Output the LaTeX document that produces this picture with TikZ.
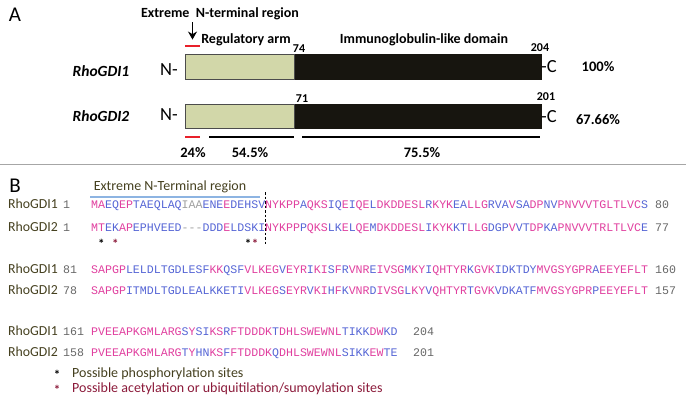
\documentclass[tikz,border=0pt]{standalone}
\usepackage{fontspec}
\setmainfont{Carlito}
\setsansfont{Carlito}
\setmonofont{Liberation Mono}
\usepackage{xcolor}
\usepackage{tikz}
\usetikzlibrary{arrows.meta,positioning}
\definecolor{armfill}{HTML}{D2D7A9}
\definecolor{domfill}{HTML}{17150F}
\definecolor{seqpink}{HTML}{E0409F}
\definecolor{seqblue}{HTML}{5565D5}
\definecolor{seqgray}{HTML}{A0A0A0}
\definecolor{numgray}{HTML}{666666}
\definecolor{gdiname}{HTML}{45401F}
\definecolor{sitered}{HTML}{8B1A3A}
\definecolor{regblue}{HTML}{8DB4E2}
\definecolor{markred}{HTML}{E8202A}
\newcommand{\sqM}[1]{\textcolor{seqpink}{#1}}
\newcommand{\sqB}[1]{\textcolor{seqblue}{#1}}
\newcommand{\sqG}[1]{\textcolor{seqgray}{#1}}

\begin{document}
\begin{tikzpicture}[x=1pt, y=-1pt,
    panel/.style={font=\sffamily\fontsize{21}{23}\selectfont, inner sep=0pt},
    hd/.style={font=\sffamily\bfseries\fontsize{14}{16}\selectfont, inner sep=0pt},
    num/.style={font=\sffamily\bfseries\fontsize{12}{14}\selectfont, inner sep=0pt},
    pct/.style={font=\sffamily\bfseries\fontsize{14.5}{16}\selectfont, inner sep=0pt},
    term/.style={font=\sffamily\fontsize{18.5}{20}\selectfont, inner sep=0pt},
    gname/.style={font=\sffamily\bfseries\itshape\fontsize{15.5}{17}\selectfont, inner sep=0pt},
    armbox/.style={draw=black!70, fill=armfill, line width=0.6pt, minimum width=109pt, minimum height=25pt, inner sep=0pt, anchor=north west},
    dombox/.style={draw=domfill, fill=domfill, minimum width=246pt, minimum height=25pt, inner sep=0pt, anchor=north west},
    redmark/.style={fill=markred, minimum width=15pt, minimum height=2.5pt, inner sep=0pt},
    rowname/.style={font=\sffamily\fontsize{13.8}{16}\selectfont, text=gdiname, inner sep=0pt, anchor=base west},
    seqnum/.style={font=\ttfamily\fontsize{11.6}{13}\selectfont, text=numgray, inner sep=0pt, anchor=base west},
    seq/.style={font=\ttfamily\fontsize{11.6}{13}\selectfont, inner sep=0pt, anchor=base west},
    site/.style={font=\sffamily\bfseries\fontsize{13}{15}\selectfont, inner sep=0pt},
    legend/.style={font=\sffamily\fontsize{14}{16}\selectfont, inner sep=0pt, anchor=west},
    arr/.style={-{Stealth[length=8pt, width=9pt]}, line width=1.8pt}
]
    \useasboundingbox (0,0) rectangle (686,404);

    % panel A: domain map
    \node[panel] (labA) at (15,15) {A};
    \node[hd] (ext) at (220,14) {Extreme\ \ N-terminal region};
    \node[redmark] (red1) at (192.5,46) {};
    \draw[arr, shorten >=5pt, shorten <=2pt] (ext.south -| red1) -- (red1.north);
    \node[hd] (reg) at (246,40) {Regulatory arm};
    \node[hd] (igl) at (424,40) {Immunoglobulin-like domain};

    \node[armbox] (arm1) at (185,54) {};
    \node[dombox] (dom1) at (arm1.north east) {};
    \node[armbox, minimum height=24pt] (arm2) at (185,104) {};
    \node[dombox, minimum height=24pt] (dom2) at (arm2.north east) {};

    \node[gname] (g1) at (101,71) {RhoGDI1};
    \node[gname] (g2) at (101,116) {RhoGDI2};
    \node[term] (nt1) at (169,70) {N-};
    \node[term] (nt2) at (169,115) {N-};
    \node[term] (ct1) at (549,67) {-C};
    \node[term] (ct2) at (549,117) {-C};
    \node[num] (n74) at (299,49) {74};
    \node[num] (n71) at (302,99) {71};
    \node[num] (n204) at (540,48) {204};
    \node[num] (n201) at (546,97) {201};
    \node[pct] (p100) at (598,67) {100\%};
    \node[pct] (p67) at (598,120) {67.66\%};

    \node[redmark] (red2) at (192.5,137) {};
    \draw[line width=1.5pt] (209,137) -- (294,137);
    \draw[line width=1.5pt] (302,137) -- (540,137);
    \node[pct] (p24) at (193,153) {24\%};
    \node[pct] (p54) at (250,153) {54.5\%};
    \node[pct] (p75) at (422,153) {75.5\%};

    \draw[black!35, line width=1pt] (0,164) -- (686,164);

    % panel B: alignment
    \node[panel] (labB) at (15,186) {B};
    \node[font=\sffamily\fontsize{14}{16}\selectfont, text=gdiname, inner sep=0pt] (extB) at (170,187) {Extreme N-Terminal region};
    \draw[regblue, line width=1.5pt] (90,197) -- (260,197);
    \draw[dashed, line width=0.8pt, dash pattern=on 2.5pt off 2pt] (265,192) -- (265,245);

    \node[rowname] (r1) at (8,208.5) {RhoGDI1};
    \node[seqnum] (s1) at (63,208.5) {1};
    \node[seq] (q1) at (91,208.5) {\sqM{MA}\sqB{EQ}\sqM{EP}\sqB{TAEQLAQ}\sqG{IAA}\sqB{ENE}\sqM{E}\sqB{DEHSV}\sqM{NYKPP}\sqB{A}\sqM{QKS}\sqB{IQ}\sqM{E}\sqB{I}\sqM{QE}\sqB{L}\sqM{DKDDESL}\sqB{R}\sqM{KYK}\sqB{EA}\sqM{LLG}\sqB{RVA}\sqM{V}\sqB{SA}\sqM{DP}\sqB{NV}\sqM{PNVVVTGLTLVC}\sqB{S}};
    \node[seqnum] (e1) at (655,208.5) {80};

    \node[rowname] (r2) at (8,231.5) {RhoGDI2};
    \node[seqnum] (s2) at (63,231.5) {1};
    \node[seq] (q2) at (91,231.5) {\sqM{MT}\sqB{EK}\sqM{AP}\sqB{EPHVEED}\sqG{{-}{-}{-}}\sqB{DDD}\sqM{E}\sqB{LDSKI}\sqM{NYKPP}\sqB{P}\sqM{QKS}\sqB{LK}\sqM{E}\sqB{L}\sqM{QE}\sqB{M}\sqM{DKDDESL}\sqB{I}\sqM{KYK}\sqB{KT}\sqM{LLG}\sqB{DGP}\sqM{V}\sqB{VT}\sqM{DP}\sqB{KA}\sqM{PNVVVTRLTLVC}\sqB{E}};
    \node[seqnum] (e2) at (655,231.5) {77};

    \node[site] (st1) at (101.4,244) {*};
    \node[site, text=sitered] (st2) at (115.4,244) {*};
    \node[site] (st3) at (248,244) {*};
    \node[site, text=sitered] (st4) at (255,244) {*};

    \node[rowname] (r3) at (8,273) {RhoGDI1};
    \node[seqnum] (s3) at (63,273) {81};
    \node[seq] (q3) at (91,273) {\sqM{SAPGP}\sqB{LELDLTGDLESF}\sqM{KK}\sqB{QSF}\sqM{VLKEG}\sqB{V}\sqM{EYR}\sqB{I}\sqM{KI}\sqB{S}\sqM{F}\sqB{R}\sqM{VNR}\sqB{E}\sqM{IVSG}\sqB{M}\sqM{KY}\sqB{I}\sqM{QHTYR}\sqB{K}\sqM{GVK}\sqB{IDKTDY}\sqM{MVGSYGPR}\sqB{A}\sqM{EEYEFLT}};
    \node[seqnum] (e3) at (655,273) {160};

    \node[rowname] (r4) at (8,294.5) {RhoGDI2};
    \node[seqnum] (s4) at (63,294.5) {78};
    \node[seq] (q4) at (91,294.5) {\sqM{SAPGP}\sqB{ITMDLTGDLEALKKETI}\sqM{VLKEG}\sqB{S}\sqM{EYR}\sqB{V}\sqM{KI}\sqB{H}\sqM{F}\sqB{K}\sqM{VNR}\sqB{D}\sqM{IVSG}\sqB{L}\sqM{KY}\sqB{V}\sqM{QHTYR}\sqB{T}\sqM{GVK}\sqB{VDKATF}\sqM{MVGSYGPR}\sqB{P}\sqM{EEYEFLT}};
    \node[seqnum] (e4) at (655,294.5) {157};

    \node[rowname] (r5) at (8,335.5) {RhoGDI1};
    \node[seqnum] (s5) at (63,335.5) {161};
    \node[seq] (q5) at (91,335.5) {\sqM{PVEEAPKGMLARG}\sqB{S}\sqM{Y}\sqB{SI}\sqM{KS}\sqB{R}\sqM{FTDDDK}\sqB{T}\sqM{DHLSWEWNL}\sqB{TIKK}\sqM{DW}\sqB{KD}};
    \node[seqnum] (e5) at (413,335.5) {204};

    \node[rowname] (r6) at (8,356.5) {RhoGDI2};
    \node[seqnum] (s6) at (63,356.5) {158};
    \node[seq] (q6) at (91,356.5) {\sqM{PVEEAPKGMLARG}\sqB{T}\sqM{Y}\sqB{HN}\sqM{KS}\sqB{F}\sqM{FTDDDK}\sqB{Q}\sqM{DHLSWEWNL}\sqB{SIKK}\sqM{EW}\sqB{TE}};
    \node[seqnum] (e6) at (413,356.5) {201};

    \node[site] (k1) at (57,375) {*};
    \node[legend, text=gdiname] (l1) at (72,374) {Possible phosphorylation sites};
    \node[site, text=sitered] (k2) at (57,390) {*};
    \node[legend, text=sitered] (l2) at (72,389) {Possible acetylation or ubiquitilation/sumoylation sites};
\end{tikzpicture}
\end{document}
